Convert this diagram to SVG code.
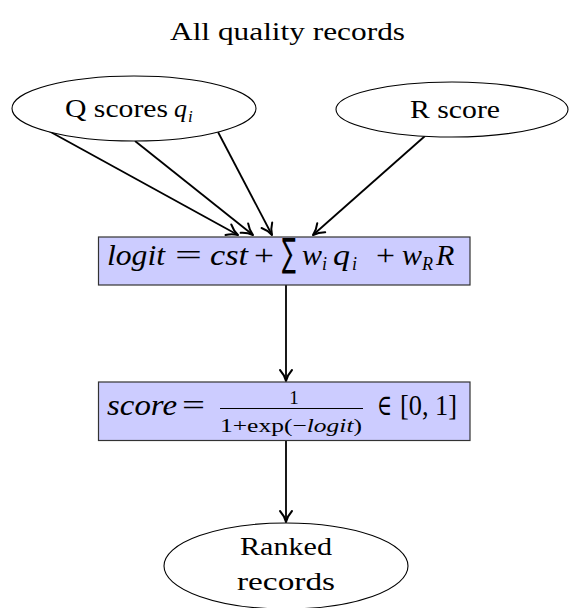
<svg xmlns="http://www.w3.org/2000/svg" width="569" height="608" viewBox="0 0 569 608" font-family="'Liberation Serif', 'Times New Roman', 'DejaVu Serif', serif">
  <style>
    text { font-family: "Liberation Serif", "Times New Roman", "DejaVu Serif", serif; fill: #000; }
    .it { font-style: italic; }
    .op { font-family: "DejaVu Sans", "Noto Sans", sans-serif; }
    .node-ellipse { fill: #fff; stroke: #000; stroke-width: 1.1; }
    .node-box { fill: #ccccff; stroke: #333; stroke-width: 1.2; }
    .edge { fill: none; stroke: #000; stroke-width: 1.8; marker-end: url(#arrow); }
  </style>
  <defs>
    <marker id="arrow" viewBox="-13 -8 15 16" refX="0" refY="0" markerWidth="15" markerHeight="16" markerUnits="userSpaceOnUse" orient="auto">
      <path d="M -11,-6 C -7,-2.4 -3.2,-0.8 0,0 C -3.2,0.8 -7,2.4 -11,6" fill="none" stroke="#000" stroke-width="2" stroke-linecap="round" stroke-linejoin="round"/>
    </marker>
  </defs>
  <rect width="569" height="608" fill="#fff"/>

  <!-- heading -->
  <text x="170" y="40" font-size="26" textLength="235" lengthAdjust="spacingAndGlyphs">All quality records</text>

  <!-- connectors -->
  <g id="connectors">
    <line class="edge" x1="47" y1="130" x2="238" y2="235"/>
    <line class="edge" x1="135" y1="141" x2="253" y2="235"/>
    <line class="edge" x1="218" y1="132" x2="272" y2="235"/>
    <line class="edge" x1="425" y1="136" x2="313" y2="235"/>
    <line class="edge" x1="286" y1="285" x2="286" y2="381"/>
    <line class="edge" x1="286" y1="441" x2="286" y2="522"/>
  </g>

  <!-- input: Q scores -->
  <g id="q-scores">
    <ellipse class="node-ellipse" cx="134" cy="108.5" rx="122" ry="32.5"/>
    <text x="65" y="117" font-size="25" textLength="103" lengthAdjust="spacingAndGlyphs">Q scores</text>
    <text class="it" x="174" y="117" font-size="26">q</text>
    <text class="it" x="188" y="122" font-size="17">i</text>
  </g>

  <!-- input: R score -->
  <g id="r-score">
    <ellipse class="node-ellipse" cx="452" cy="109.5" rx="116" ry="27.5"/>
    <text x="410" y="118" font-size="25" textLength="90" lengthAdjust="spacingAndGlyphs">R score</text>
  </g>

  <!-- linear combination -->
  <g id="logit">
    <rect class="node-box" x="98.5" y="237" width="371.5" height="48"/>
    <text class="it" x="107" y="265" font-size="29" textLength="58" lengthAdjust="spacingAndGlyphs">logit</text>
    <text x="175" y="265" font-size="29" textLength="27" lengthAdjust="spacingAndGlyphs">=</text>
    <text class="it" x="210" y="265" font-size="29" textLength="38" lengthAdjust="spacingAndGlyphs">cst</text>
    <text x="254" y="265" font-size="29" textLength="20" lengthAdjust="spacingAndGlyphs">+</text>
    <text class="op" x="282" y="266" font-size="39" textLength="14" lengthAdjust="spacingAndGlyphs">∑</text>
    <text class="it" x="302" y="265" font-size="30">w</text>
    <text class="it" x="322" y="270" font-size="18">i</text>
    <text class="it" x="333" y="265" font-size="30" textLength="17" lengthAdjust="spacingAndGlyphs">q</text>
    <text class="it" x="352" y="270" font-size="18">i</text>
    <text x="376" y="265" font-size="29" textLength="19" lengthAdjust="spacingAndGlyphs">+</text>
    <text class="it" x="402" y="265" font-size="30">w</text>
    <text class="it" x="422" y="270" font-size="18">R</text>
    <text class="it" x="436" y="265" font-size="30">R</text>
  </g>

  <!-- logistic squashing -->
  <g id="score">
    <rect class="node-box" x="98.5" y="382" width="371.5" height="58.5"/>
    <text class="it" x="107" y="415" font-size="29" textLength="70" lengthAdjust="spacingAndGlyphs">score</text>
    <text x="182" y="415" font-size="29" textLength="23" lengthAdjust="spacingAndGlyphs">=</text>
    <text x="294" y="404" font-size="19" text-anchor="middle">1</text>
    <line x1="220" y1="408.5" x2="363" y2="408.5" stroke="#000" stroke-width="1"/>
    <text x="220" y="432" font-size="19" textLength="142" lengthAdjust="spacingAndGlyphs">1+exp(−<tspan class="it">logit</tspan>)</text>
    <text x="377" y="415" font-size="29" textLength="15" lengthAdjust="spacingAndGlyphs">∈</text>
    <text x="400" y="415" font-size="29" textLength="57" lengthAdjust="spacingAndGlyphs">[0, 1]</text>
  </g>

  <!-- output -->
  <g id="ranked">
    <ellipse class="node-ellipse" cx="286" cy="566" rx="122" ry="43"/>
    <text x="240" y="555" font-size="26" textLength="92" lengthAdjust="spacingAndGlyphs">Ranked</text>
    <text x="237" y="590" font-size="26" textLength="98" lengthAdjust="spacingAndGlyphs">records</text>
  </g>
</svg>
